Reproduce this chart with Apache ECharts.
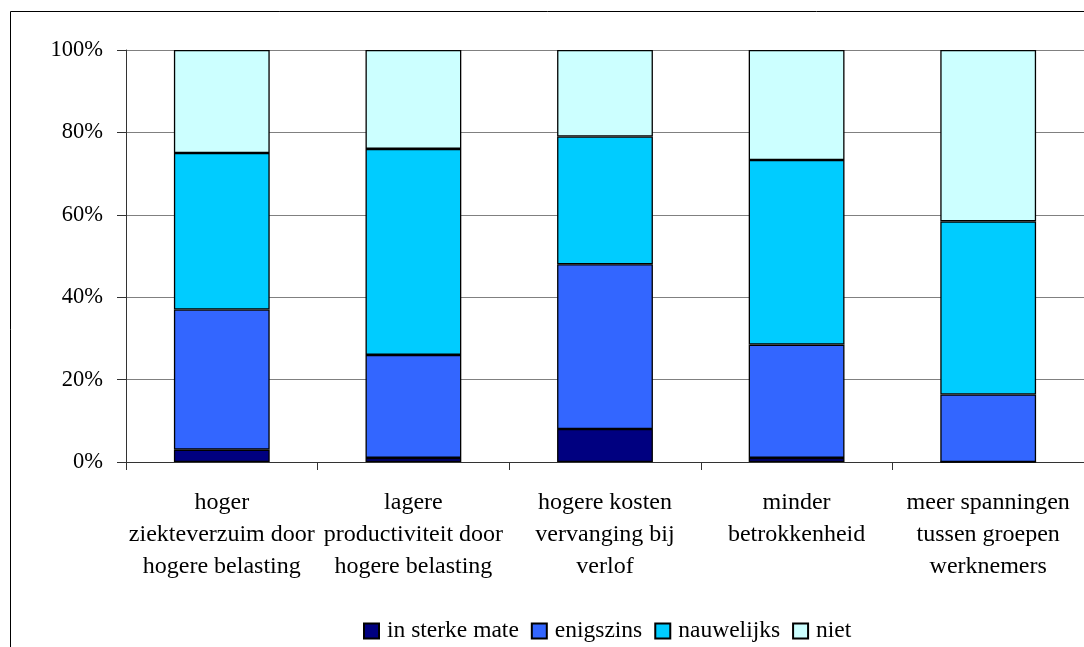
<!DOCTYPE html>
<html>
<head>
<meta charset="utf-8">
<script src="https://cdn.jsdelivr.net/npm/echarts@6/dist/echarts.min.js"></script>
<style>
  html, body { margin: 0; padding: 0; background: #fff; }
  #chart { width: 1084px; height: 647px; }
</style>
</head>
<body>
<div id="chart"></div>
<script>
// Categories (each label broken over lines as printed under the bars)
const categories = [
  'hoger\nziekteverzuim door\nhogere belasting',
  'lagere\nproductiviteit door\nhogere belasting',
  'hogere kosten\nvervanging bij\nverlof',
  'minder\nbetrokkenheid',
  'meer spanningen\ntussen groepen\nwerknemers'
];

// Share of respondents per answer, in percent
const inSterkeMate = [3, 1, 8, 1, 0];
const enigszins    = [34, 25, 40, 27.5, 16.4];
const nauwelijks   = [38, 50, 31, 44.8, 42];
const niet         = [25, 24, 21, 26.7, 41.6];

const seriesNames  = ['in sterke mate', 'enigszins', 'nauwelijks', 'niet'];
const seriesData   = [inSterkeMate, enigszins, nauwelijks, niet];
const seriesColors = ['#000080', '#3366FF', '#00CCFF', '#CCFFFF'];

const yTicks = [0, 20, 40, 60, 80, 100];

const FONT = '"Liberation Serif", "DejaVu Serif", serif';

const chart = echarts.init(document.getElementById('chart'), null, { renderer: 'canvas' });

chart.setOption({
  animation: false,
  backgroundColor: '#ffffff',
  textStyle: { fontFamily: FONT, color: '#000' },
  graphic: [{
    type: 'rect',
    shape: { x: 10.5, y: 11.5, width: 1200, height: 800 },
    style: { fill: 'none', stroke: '#000', lineWidth: 1 },
    silent: true
  }],
  grid: { left: 126, right: -2, top: 50, bottom: 185, containLabel: false },
  legend: {
    left: 363,
    top: 619,
    padding: 0,
    itemWidth: 15,
    itemHeight: 15,
    itemGap: 12,
    icon: 'rect',
    textStyle: { fontFamily: FONT, fontSize: 23.5, color: '#000', padding: [0, 0, 0, 3] },
    data: seriesNames
  },
  xAxis: {
    type: 'category',
    data: categories,
    boundaryGap: true,
    axisLine: { show: true, lineStyle: { color: '#333', width: 1 } },
    axisTick: { show: true, length: 8, inside: false, lineStyle: { color: '#333' } },
    axisLabel: {
      interval: 0,
      margin: 25,
      fontFamily: FONT,
      fontSize: 24,
      lineHeight: 32,
      color: '#000',
      align: 'center'
    },
    splitLine: { show: false }
  },
  yAxis: {
    type: 'value',
    min: yTicks[0],
    max: yTicks[yTicks.length - 1],
    interval: 20,
    axisLine: { show: true, lineStyle: { color: '#333', width: 1 } },
    axisTick: { show: true, length: 9, inside: false, lineStyle: { color: '#333' } },
    axisLabel: {
      margin: 23,
      fontFamily: FONT,
      fontSize: 22.5,
      color: '#000',
      formatter: '{value}%'
    },
    splitLine: { show: true, lineStyle: { color: '#808080', width: 1 } }
  },
  series: seriesNames.map((name, i) => ({
    name: name,
    type: 'bar',
    stack: 'total',
    barWidth: '50%',
    data: seriesData[i],
    itemStyle: { color: seriesColors[i], borderColor: '#000', borderWidth: 1.3 },
    emphasis: { disabled: true }
  }))
});
</script>
</body>
</html>
